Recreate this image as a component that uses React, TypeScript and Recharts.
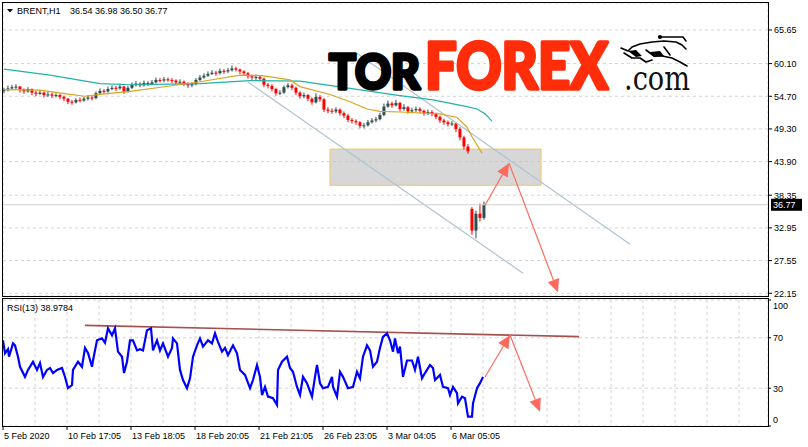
import React from 'react';
import {
  ComposedChart,
  Bar,
  Line,
  XAxis,
  YAxis,
  CartesianGrid,
  ReferenceLine,
  ReferenceArea,
} from 'recharts';

// ---------- DATA ----------
const SYMBOL = 'BRENT,H1';
const OHLC_TEXT = '36.54 36.98 36.50 36.77';
const RSI_TITLE = 'RSI(13) 38.9784';
const LAST_PRICE = 36.77;

// candles, one every 4 bars starting at bar 1
const CANDLE_FIRST_BAR = 1;
const CANDLE_STEP = 4;
const FIRST_OPEN = 55.6;
const GAP_INDEX = 117;
const GAP_OPEN = 36.1;
const CLOSES = [
  55.7, 56.0, 56.2, 56.3, 55.8, 55.5, 55.9, 55.3, 55.1, 55.3,
  54.9, 55.0, 54.8, 54.9, 54.6, 54.3, 53.8, 53.7, 54.1, 54.0,
  54.3, 54.5, 54.4, 55.2, 55.6, 55.5, 55.9, 56.1, 56.0, 56.3,
  55.5, 56.1, 56.6, 56.8, 56.5, 56.9, 56.7, 57.0, 57.4, 57.3,
  57.5, 57.4, 57.3, 57.0, 57.1, 56.8, 56.5, 56.7, 57.4, 57.8,
  58.1, 58.4, 58.6, 58.5, 58.9, 58.8, 59.0, 59.3, 59.1, 58.8,
  58.5, 58.0, 57.8, 57.9, 57.6, 56.6, 56.4, 55.9, 55.2, 55.3,
  56.2, 56.5, 56.1, 55.3, 54.7, 54.9, 54.3, 53.7, 54.6, 54.2,
  52.5, 52.3, 52.2, 52.5, 51.9, 51.5, 50.8, 50.6, 50.4, 49.8,
  49.9, 50.4, 50.7, 50.9, 51.6, 53.0, 53.5, 53.2, 53.6, 52.6,
  52.9, 52.2, 52.4, 52.6, 52.3, 51.9, 52.1, 51.8, 51.3, 50.7,
  50.4, 50.1, 50.2, 49.3, 47.9, 46.4, 45.6, 32.5, 35.3, 34.6,
  36.77,
];
const HIGHS = [
  56.1, 56.5, 56.6, 56.7, 56.4, 56.0, 56.2, 56.0, 55.6, 55.7,
  55.5, 55.4, 55.3, 55.2, 55.1, 54.8, 54.4, 54.1, 54.4, 54.5,
  54.6, 54.9, 54.8, 55.5, 56.0, 55.9, 56.3, 56.5, 56.4, 56.8,
  56.4, 56.4, 57.0, 57.2, 57.0, 57.3, 57.2, 57.4, 57.8, 57.7,
  57.9, 57.8, 57.7, 57.5, 57.5, 57.3, 57.0, 57.0, 57.7, 58.2,
  58.5, 58.8, 59.0, 58.9, 59.3, 59.2, 59.4, 59.8, 59.6, 59.3,
  59.0, 58.7, 58.3, 58.3, 58.2, 57.8, 56.9, 56.7, 56.1, 55.7,
  56.5, 56.9, 56.8, 56.3, 55.5, 55.3, 55.1, 54.5, 55.2, 54.9,
  54.4, 52.9, 52.7, 52.9, 52.7, 52.2, 51.8, 51.1, 50.9, 50.6,
  50.3, 50.8, 51.1, 51.3, 52.0, 53.5, 54.0, 53.8, 54.1, 53.8,
  53.4, 53.1, 52.8, 53.0, 52.9, 52.5, 52.5, 52.4, 52.0, 51.5,
  51.0, 50.7, 50.6, 50.4, 49.6, 48.2, 46.8, 36.4, 35.8, 37.0,
  37.3,
];
const LOWS = [
  55.2, 55.5, 55.8, 55.9, 55.3, 55.1, 55.3, 54.9, 54.7, 54.9,
  54.5, 54.6, 54.4, 54.5, 54.2, 53.9, 53.4, 53.3, 53.5, 53.7,
  53.8, 54.0, 54.0, 54.2, 55.0, 55.1, 55.3, 55.7, 55.6, 55.8,
  55.1, 55.3, 55.9, 56.3, 56.2, 56.3, 56.4, 56.5, 56.8, 57.0,
  57.0, 57.1, 56.9, 56.7, 56.7, 56.4, 56.1, 56.2, 56.5, 57.2,
  57.6, 57.9, 58.2, 58.1, 58.3, 58.4, 58.5, 58.8, 58.8, 58.4,
  58.1, 57.6, 57.4, 57.4, 57.2, 56.2, 56.0, 55.5, 54.8, 54.9,
  55.1, 56.0, 55.7, 54.9, 54.3, 54.4, 53.9, 53.3, 53.5, 53.8,
  52.1, 51.9, 51.8, 51.9, 51.5, 51.1, 50.4, 50.2, 50.0, 49.4,
  49.4, 49.7, 50.2, 50.4, 50.7, 51.4, 52.8, 52.8, 53.0, 52.2,
  52.3, 51.8, 51.9, 52.1, 51.9, 51.5, 51.6, 51.4, 50.9, 50.3,
  50.0, 49.7, 49.8, 48.8, 47.4, 45.9, 45.2, 31.8, 31.2, 34.0,
  34.3,
];

const ORANGE_BARS = [1, 37, 67, 82, 97, 127, 167, 197, 237, 259, 287, 297, 327, 347, 364, 377, 397, 437, 454, 464, 469, 479];
const ORANGE_VALUES = [55.8, 55.7, 55.0, 54.7, 55.0, 55.5, 56.4, 57.1, 58.2, 58.1, 57.4, 56.3, 55.0, 53.8, 52.6, 52.2, 52.1, 51.8, 51.2, 49.6, 48.0, 45.3];

const TEAL_BARS = [1, 47, 97, 127, 167, 197, 247, 297, 347, 397, 430, 464, 474, 482, 489];
const TEAL_VALUES = [59.2, 58.2, 56.8, 56.6, 56.7, 56.8, 57.3, 57.2, 56.0, 54.8, 54.1, 53.0, 52.6, 51.8, 50.6];

const CHANNEL_UPPER_BARS = [352, 627];
const CHANNEL_UPPER_VALUES = [62.0, 30.25];
const CHANNEL_LOWER_BARS = [245, 520];
const CHANNEL_LOWER_VALUES = [57.05, 25.46];

const ZONE_BARS = [327, 538];
const ZONE_VALUES = [40.0, 45.97];

const FORECAST_BARS = [482, 506, 555];
const FORECAST_VALUES = [36.7, 43.65, 22.32];

const PRICE_DOMAIN = [21.7, 70.11];
const PRICE_TICKS = [22.15, 27.55, 32.95, 38.35, 43.9, 49.3, 54.7, 60.1, 65.65];

const RSI_BARS = [
  0, 2, 5, 6, 10, 12, 15, 17, 22, 25, 30, 34, 37, 40, 44, 47, 50, 54, 59, 62,
  65, 69, 70, 75, 79, 82, 85, 89, 90, 94, 99, 102, 105, 109, 112, 115, 119, 121, 124, 127,
  130, 134, 137, 140, 144, 148, 150, 154, 157, 160, 165, 169, 170, 174, 177, 180, 184, 187, 190, 194,
  197, 200, 205, 209, 212, 215, 219, 222, 225, 230, 234, 237, 242, 247, 250, 254, 257, 259, 262, 265,
  270, 274, 275, 279, 284, 287, 290, 294, 297, 300, 304, 309, 312, 314, 317, 320, 325, 329, 330, 334,
  337, 340, 345, 350, 354, 357, 360, 364, 367, 370, 374, 377, 380, 384, 387, 390, 392, 395, 397, 399,
  400, 404, 409, 412, 415, 419, 422, 427, 430, 432, 437, 440, 445, 447, 450, 454, 455, 459, 462, 465,
  469, 470, 474, 477, 480,
];
const RSI_VALUES = [
  68, 57.7, 61, 55, 65.6, 64, 55, 47, 39, 44.5, 51, 44.5, 50, 39, 44.5, 46, 42, 44.5, 46, 39,
  30, 32.5, 44.5, 51, 47, 62, 58, 47, 52, 68, 69.5, 66, 77.5, 72, 77.5, 59, 55, 42, 51, 68,
  68, 60, 61, 60, 76, 77.5, 60, 68, 60, 65.6, 55, 62, 69.5, 65.6, 44.5, 36.5, 30, 37.8, 55, 64,
  69.5, 63, 68, 65.6, 73.5, 66.8, 59, 62, 56.3, 64, 57.7, 44.5, 40.5, 30, 36.5, 48.4, 39, 24.6, 31, 23.3,
  22, 16.7, 44.5, 51, 55, 46, 43, 31, 24.6, 39, 33.9, 23.3, 39, 48.4, 33.9, 30, 31, 39, 31, 23.3,
  43, 39, 30, 31, 43, 37.8, 55, 64, 60, 47, 51, 62, 70.8, 73.5, 68, 59, 69.5, 57.7, 63, 47,
  39, 52, 52, 44.5, 55, 37.8, 42, 48.4, 46, 36.5, 40.5, 31, 30, 24.6, 31, 26, 18, 23.3, 22, 7.4,
  7.4, 18, 30, 34, 39,
];
const RSI_TICKS = [0, 30, 70, 100];
const RSI_TREND_BARS = [82, 576];
const RSI_TREND_VALUES = [79.9, 70.9];
const RSI_FORECAST_BARS = [482, 507, 537];
const RSI_FORECAST_VALUES = [38.9, 72.2, 11.3];

const X_DOMAIN = [0, 765];
const GRID_BARS = Array.from({ length: 24 }, (_, i) => i * 32);
const TIME_LABEL_BARS = [0, 64, 128, 192, 256, 320, 384, 448];
const TIME_LABELS = ['5 Feb 2020', '10 Feb 17:05', '13 Feb 18:05', '18 Feb 20:05', '21 Feb 21:05', '26 Feb 23:05', '3 Mar 04:05', '6 Mar 05:05'];

// ---------- derived tables ----------
const candles = CLOSES.map((c, i) => ({
  bar: CANDLE_FIRST_BAR + i * CANDLE_STEP,
  open: i === 0 ? FIRST_OPEN : i === GAP_INDEX ? GAP_OPEN : CLOSES[i - 1],
  close: c,
  high: HIGHS[i],
  low: LOWS[i],
}));
const orangeData = ORANGE_BARS.map((b, i) => ({ bar: b, v: ORANGE_VALUES[i] }));
const tealData = TEAL_BARS.map((b, i) => ({ bar: b, v: TEAL_VALUES[i] }));
const rsiData = RSI_BARS.map((b, i) => ({ bar: b, v: RSI_VALUES[i] }));

const FONT = "'Liberation Sans', Arial, sans-serif";
const LOGO_FONT = "Lato, 'DejaVu Sans', sans-serif";
const ARROW_COLOR = '#fb6a5c';

// one bar spans low..high; the body is placed inside it proportionally
const CandleShape = (props: any) => {
  const { x, y, width, height, payload } = props;
  if (x == null || y == null || !payload) return null;
  const { open, close, high, low } = payload;
  const up = close >= open;
  const color = up ? '#2f4f4f' : '#ff0000';
  const span = high - low || 1;
  const pxPer = height / span;
  const top = y + (high - Math.max(open, close)) * pxPer;
  const bodyH = Math.max(1, Math.abs(open - close) * pxPer);
  const cx = x + width / 2;
  return (
    <g>
      <rect x={cx - 0.5} y={y} width={1} height={Math.max(1, height)} fill={color} />
      <rect x={cx - 1.5} y={top} width={3} height={bodyH} fill={color} />
    </g>
  );
};

const ArrowShape = (props: any) => {
  const { x1, y1, x2, y2 } = props;
  if ([x1, y1, x2, y2].some((v) => v == null || isNaN(v))) return null;
  const ang = Math.atan2(y2 - y1, x2 - x1);
  const L = 13;
  const H = 6;
  const bx = x2 - L * Math.cos(ang);
  const by = y2 - L * Math.sin(ang);
  const px = -Math.sin(ang) * H;
  const py = Math.cos(ang) * H;
  return (
    <g>
      <line x1={x1} y1={y1} x2={bx} y2={by} stroke={ARROW_COLOR} strokeWidth={1.2} />
      <polygon points={`${x2},${y2} ${bx + px},${by + py} ${bx - px},${by - py}`} fill={ARROW_COLOR} />
    </g>
  );
};

const PriceTick = (props: any) => {
  const { x, y, payload } = props;
  return (
    <g>
      <line x1={x} x2={x + 4} y1={y} y2={y} stroke="#000" />
      <text x={x + 6} y={y + 3.5} fontFamily={FONT} fontSize={9} fill="#000">
        {Number(payload.value).toFixed(2)}
      </text>
    </g>
  );
};

const RsiTick = (props: any) => {
  const { x, y, payload } = props;
  const v = payload.value;
  const dy = v === 100 ? 8.5 : v === 0 ? -3.5 : 3.5;
  return (
    <g>
      <line x1={x} x2={x + 3} y1={y} y2={y} stroke="#000" />
      <text x={x + 5} y={y + dy} fontFamily={FONT} fontSize={9} fill="#000">
        {v}
      </text>
    </g>
  );
};

const TimeTick = (props: any) => {
  const { x, y, payload } = props;
  const idx = TIME_LABEL_BARS.indexOf(payload.value);
  if (idx < 0) return null;
  return (
    <g>
      <line x1={x} x2={x} y1={y} y2={y + 4} stroke="#000" />
      <text x={x + 1} y={y + 13} fontFamily={FONT} fontSize={9} fill="#000">
        {TIME_LABELS[idx]}
      </text>
    </g>
  );
};

const PriceTag = (props: any) => {
  const vb = props.viewBox || {};
  const x = (vb.x ?? 0) + (vb.width ?? 0);
  const y = vb.y ?? 0;
  return (
    <g>
      <rect x={x + 3} y={y - 6} width={31} height={12} fill="#000" />
      <text x={x + 5} y={y + 3.5} fontFamily={FONT} fontSize={9} fill="#fff">
        {LAST_PRICE.toFixed(2)}
      </text>
    </g>
  );
};

const gridProps = { stroke: '#d4d4d4', strokeDasharray: '3 3' };

export default function App() {
  return (
    <div style={{ position: 'absolute', left: 0, top: 0, width: 808, height: 447, background: '#fff', overflow: 'hidden' }}>
      <div style={{ position: 'absolute', left: 0, top: 297 }}>
        <ComposedChart width={808} height={150} data={rsiData} margin={{ top: 3, right: 0, bottom: 0, left: 3 }}>
          <CartesianGrid {...gridProps} />
          <XAxis
            type="number"
            dataKey="bar"
            domain={X_DOMAIN}
            ticks={GRID_BARS}
            allowDataOverflow
            height={21}
            tickSize={0}
            tickMargin={0}
            tickLine={false}
            axisLine={false}
            tick={<TimeTick />}
            interval={0}
          />
          <YAxis
            orientation="right"
            type="number"
            domain={[0, 100]}
            ticks={RSI_TICKS}
            allowDataOverflow
            width={40}
            tickSize={0}
            tickMargin={0}
            axisLine={false}
            tickLine={false}
            tick={<RsiTick />}
            interval={0}
          />
          <ReferenceLine
            segment={[
              { x: RSI_TREND_BARS[0], y: RSI_TREND_VALUES[0] },
              { x: RSI_TREND_BARS[1], y: RSI_TREND_VALUES[1] },
            ]}
            stroke="#a4504c"
            strokeWidth={1.6}
          />
          <Line dataKey="v" type="linear" dot={false} stroke="#0000ff" strokeWidth={2.2} isAnimationActive={false} />
          <ReferenceLine
            segment={[
              { x: RSI_FORECAST_BARS[0], y: RSI_FORECAST_VALUES[0] },
              { x: RSI_FORECAST_BARS[1], y: RSI_FORECAST_VALUES[1] },
            ]}
            shape={<ArrowShape />}
          />
          <ReferenceLine
            segment={[
              { x: RSI_FORECAST_BARS[1], y: RSI_FORECAST_VALUES[1] },
              { x: RSI_FORECAST_BARS[2], y: RSI_FORECAST_VALUES[2] },
            ]}
            shape={<ArrowShape />}
          />
        </ComposedChart>
      </div>
      <div style={{ position: 'absolute', left: 0, top: 0 }}>
        <ComposedChart width={808} height={301} data={candles} margin={{ top: 3, right: 0, bottom: 5, left: 3 }}>
          <CartesianGrid {...gridProps} />
          <XAxis
            type="number"
            dataKey="bar"
            domain={X_DOMAIN}
            ticks={GRID_BARS}
            allowDataOverflow
            height={0}
            tick={false}
            tickLine={false}
            axisLine={false}
          />
          <YAxis
            orientation="right"
            type="number"
            domain={PRICE_DOMAIN}
            ticks={PRICE_TICKS}
            allowDataOverflow
            width={40}
            tickSize={0}
            tickMargin={0}
            axisLine={false}
            tickLine={false}
            tick={<PriceTick />}
            interval={0}
          />
          <ReferenceLine
            segment={[
              { x: CHANNEL_UPPER_BARS[0], y: CHANNEL_UPPER_VALUES[0] },
              { x: CHANNEL_UPPER_BARS[1], y: CHANNEL_UPPER_VALUES[1] },
            ]}
            stroke="#aec4d3"
            strokeWidth={1.2}
          />
          <ReferenceLine
            segment={[
              { x: CHANNEL_LOWER_BARS[0], y: CHANNEL_LOWER_VALUES[0] },
              { x: CHANNEL_LOWER_BARS[1], y: CHANNEL_LOWER_VALUES[1] },
            ]}
            stroke="#aec4d3"
            strokeWidth={1.2}
          />
          <ReferenceLine y={LAST_PRICE} stroke="#cfcfcf" label={<PriceTag />} />
          <Line data={tealData} dataKey="v" type="linear" dot={false} stroke="#20b2aa" strokeWidth={1.2} isAnimationActive={false} />
          <Line data={orangeData} dataKey="v" type="linear" dot={false} stroke="#daa520" strokeWidth={1.2} isAnimationActive={false} />
          <Bar
            dataKey={(d: any) => [d.low, d.high]}
            barSize={3}
            shape={<CandleShape />}
            isAnimationActive={false}
          />
          <ReferenceArea
            x1={ZONE_BARS[0]}
            x2={ZONE_BARS[1]}
            y1={ZONE_VALUES[0]}
            y2={ZONE_VALUES[1]}
            fill="#bdbdbd"
            fillOpacity={0.6}
            stroke="#f0c462"
            strokeOpacity={1}
          />
          <ReferenceLine
            segment={[
              { x: FORECAST_BARS[0], y: FORECAST_VALUES[0] },
              { x: FORECAST_BARS[1], y: FORECAST_VALUES[1] },
            ]}
            shape={<ArrowShape />}
          />
          <ReferenceLine
            segment={[
              { x: FORECAST_BARS[1], y: FORECAST_VALUES[1] },
              { x: FORECAST_BARS[2], y: FORECAST_VALUES[2] },
            ]}
            shape={<ArrowShape />}
          />
        </ComposedChart>
      </div>
      <svg width={808} height={447} style={{ position: 'absolute', left: 0, top: 0, pointerEvents: 'none' }}>
        <rect x={2.5} y={2.5} width={766} height={294} fill="none" stroke="#000" />
        <rect x={2.5} y={298.5} width={766} height={128} fill="none" stroke="#000" />
        <polygon points="7,9 13,9 10,12.5" fill="#000" />
        <text x={17} y={14} fontFamily={FONT} fontSize={9} fill="#000">{SYMBOL}</text>
        <text x={70} y={14} fontFamily={FONT} fontSize={9} fill="#000">{OHLC_TEXT}</text>
        <text x={7} y={311} fontFamily={FONT} fontSize={9} fill="#000">{RSI_TITLE}</text>
        {/* logo */}
        <g transform="translate(329,89) scale(1,1.12)">
          <text x={0} y={0} fontFamily={LOGO_FONT} fontWeight={900} fontSize={42} textLength={91} lengthAdjust="spacingAndGlyphs" fill="#000" stroke="#000" strokeWidth={3} strokeLinejoin="round">
            TOR
          </text>
        </g>
        <g transform="translate(425,89) scale(1,1.14)">
          <text x={0} y={0} fontFamily={LOGO_FONT} fontWeight={900} fontSize={57} textLength={183} lengthAdjust="spacingAndGlyphs" fill="#ff2d0a" stroke="#ff2d0a" strokeWidth={3.2} strokeLinejoin="round">
            FOREX
          </text>
        </g>
        <g transform="translate(624,90) scale(1,1.2)">
          <text x={0} y={0} fontFamily="'DejaVu Serif', serif" fontSize={28} textLength={66} lengthAdjust="spacingAndGlyphs" fill="#111">
            .com
          </text>
        </g>
        <g fill="none" stroke="#000" strokeWidth={1.6} strokeLinejoin="round" strokeLinecap="round">
          <path d="M621,48 L628,51 L632,47 L640,44 L652,42 L664,41 L676,42 L682,45 L686,49" />
          <path d="M661,37 L683,37 L686,41" />
          <circle cx={660} cy={37} r={1.3} fill="#000" />
          <path d="M624,53 L632,58 L640,58 L646,62 L652,60" />
          <path d="M646,50 L654,56 L662,56 L672,58 L680,62 L687,66" />
          <path d="M664,47 L670,55" />
        </g>
        <path d="M628,51 L636,50 L642,56 L636,57 Z M650,52 L660,51 L664,56 L654,57 Z" fill="#000" />
      </svg>
    </div>
  );
}
